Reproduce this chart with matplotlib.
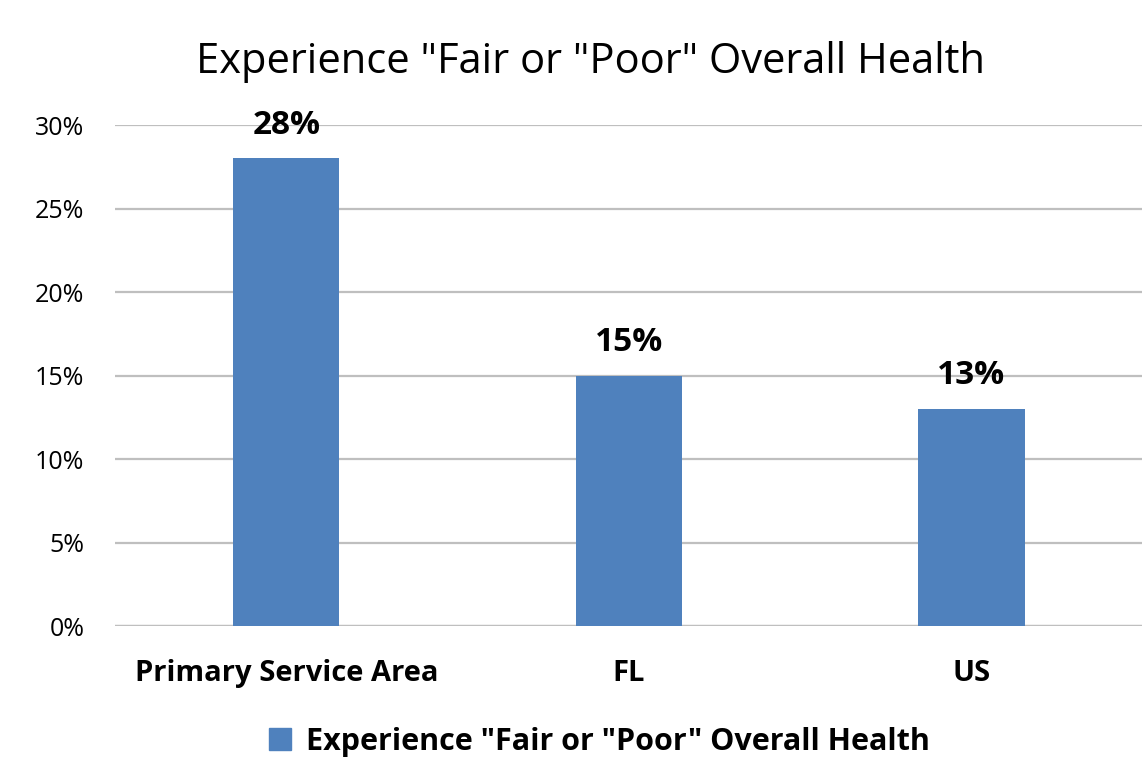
import matplotlib
matplotlib.use("Agg")
import matplotlib.pyplot as plt
from matplotlib.patches import Patch

categories = ["Primary Service Area", "FL", "US"]
values = [0.28, 0.15, 0.13]
value_labels = ["28%", "15%", "13%"]
yticks = [0, 0.05, 0.10, 0.15, 0.20, 0.25, 0.30]
ytick_labels = ["0%", "5%", "10%", "15%", "20%", "25%", "30%"]
series_name = 'Experience "Fair or "Poor" Overall Health'
title = 'Experience "Fair or "Poor" Overall Health'

plt.rcParams['font.family'] = ['Open Sans', 'DejaVu Sans']
color = "#4F81BD"

fig = plt.figure(figsize=(11.42, 7.8), dpi=100)
ax = fig.add_axes([0.1007, 0.1974, 0.9, 0.6423])
x = list(range(len(categories)))
ax.bar(x, values, width=0.31, color=color, zorder=3)
ax.set_xlim(-0.5, 2.5)
ax.set_ylim(0, 0.30)
ax.set_yticks(yticks)
ax.set_yticklabels(ytick_labels, fontsize=18)
ax.set_xticks(x)
ax.set_xticklabels(categories, fontsize=21, fontweight='bold')
ax.tick_params(axis='y', length=0, pad=22)
ax.tick_params(axis='x', length=0, pad=24)
ax.grid(axis='y', color='#bfbfbf', linewidth=1.6, zorder=0)
ax.set_axisbelow(True)
for s in ax.spines.values():
    s.set_visible(False)
ax.axhline(0, color='#bfbfbf', linewidth=1.6, zorder=1)
for xi, v, lab in zip(x, values, value_labels):
    ax.annotate(lab, (xi, v), xytext=(0, 12), textcoords='offset points',
                ha='center', va='bottom', fontsize=24, fontweight='bold', zorder=4)

fig.text(0.517, 0.921, title, ha='center', va='center', fontsize=30)
fig.legend(handles=[Patch(color=color, label=series_name)], loc='center',
           bbox_to_anchor=(0.525, 0.049), frameon=False,
           prop={'weight': 'bold', 'size': 22}, handlelength=0.7, handleheight=0.7,
           handletextpad=0.5)
fig.savefig("out.png", dpi=100, facecolor='white')
